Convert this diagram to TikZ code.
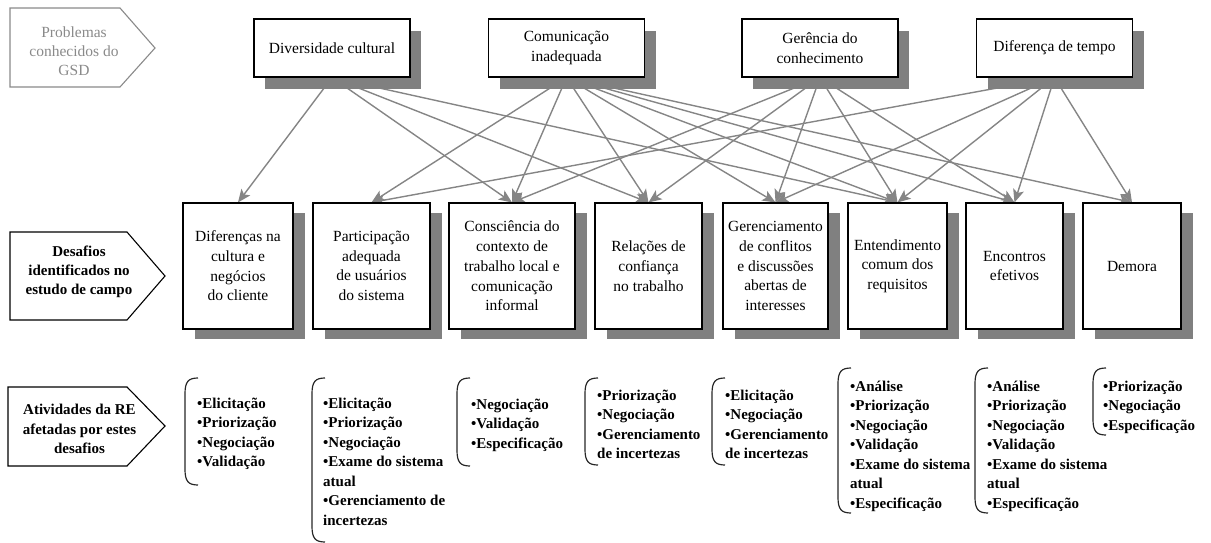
\documentclass[tikz,border=0pt]{standalone}
\usepackage{fontspec}
\setmainfont{Liberation Serif}
\usetikzlibrary{arrows.meta,shadows}
\pgfdeclarelayer{background}
\pgfsetlayers{background,main}

\definecolor{shadegray}{HTML}{808080}
\definecolor{linkgray}{HTML}{858585}
\definecolor{labelgray}{HTML}{8A8A8A}

\tikzset{
  boxbase/.style={draw=black, line width=1.1pt, fill=white, inner sep=0pt,
    align=center, font=\fontsize{15.5}{19.7}\selectfont},
  topbox/.style={boxbase, minimum width=156pt, minimum height=58pt,
    drop shadow={shadow xshift=11pt, shadow yshift=-12pt, fill=shadegray, opacity=1}},
  midbox/.style={boxbase, minimum width=#1, minimum height=126pt,
    drop shadow={shadow xshift=12pt, shadow yshift=-10pt, fill=shadegray, opacity=1}},
  rowlabel/.style={line width=1.1pt, fill=white},
  rowtext/.style={align=center, inner sep=0pt, font=\bfseries\fontsize{15}{19.2}\selectfont},
  link/.style={draw=linkgray, line width=1.4pt,
    -{Stealth[length=13pt, width=11pt, inset=3pt]}},
  actlist/.style={anchor=north west, align=left, inner sep=0pt,
    font=\bfseries\fontsize{15}{19.5}\selectfont},
  bracket/.style={draw=black!85, line width=1.2pt}
}

% a round bracket opening a list: left x, top y, bottom y
\newcommand{\listbracket}[3]{%
  \draw[bracket] (#1+13,#2) .. controls (#1+3,#2) and (#1,#2+4) .. (#1,#2+16)
    -- (#1,#3-16) .. controls (#1,#3-4) and (#1+3,#3) .. (#1+13,#3);}

\begin{document}
\begin{tikzpicture}[x=1pt, y=-1pt]
\useasboundingbox (0,0) rectangle (1211,543);

% row headings
\draw[rowlabel, draw=labelgray] (10,8) -- (120,8) -- (155,48) -- (120,87) -- (10,87) -- cycle;
\node[rowtext, font=\fontsize{15.5}{19}\selectfont, text=labelgray] (hproblems) at (74,51)
  {Problemas\\conhecidos do\\GSD};

\draw[rowlabel, draw=black] (10,232) -- (127,232) -- (165,276) -- (127,320) -- (10,320) -- cycle;
\node[rowtext] (hchallenges) at (79,272) {Desafios\\identificados no\\estudo de campo};

\draw[rowlabel, draw=black] (8,387) -- (127,387) -- (165,426) -- (127,466) -- (8,466) -- cycle;
\node[rowtext] (hactivities) at (79.5,429) {Atividades da RE\\afetadas por estes\\desafios};

% known problems
\node[topbox] (div) at (332,48) {Diversidade cultural};
\node[topbox] (com) at (566.5,48) {Comunicação\\inadequada};
\node[topbox] (ger) at (820,48) {Gerência do\\conhecimento};
\node[topbox] (tmp) at (1054.5,48) {Diferença de tempo};

% challenges
\node[midbox=110pt] (m1) at (238,266) {Diferenças na\\cultura e\\negócios\\do cliente};
\node[midbox=117pt] (m2) at (371.5,266) {Participação\\adequada\\de usuários\\do sistema};
\node[midbox=126pt] (m3) at (512,266) {Consciência do\\contexto de\\trabalho local e\\comunicação\\informal};
\node[midbox=107pt] (m4) at (648.5,266) {Relações de\\confiança\\no trabalho};
\node[midbox=105pt] (m5) at (775.5,266) {Gerenciamento\\de conflitos\\e discussões\\abertas de\\interesses};
\node[midbox=99pt] (m6) at (897.5,266) {Entendimento\\comum dos\\requisitos};
\node[midbox=97pt] (m7) at (1014.5,266) {Encontros\\efetivos};
\node[midbox=98pt] (m8) at (1132,266) {Demora};

% problem -> challenge links, kept below the boxes and their shadows
\begin{pgfonlayer}{background}
\foreach \s/\t in {div/m1, div/m3, div/m4, div/m6,
                   com/m2, com/m3, com/m4, com/m5, com/m6, com/m7, com/m8,
                   ger/m3, ger/m4, ger/m5, ger/m6, ger/m7,
                   tmp/m2, tmp/m5, tmp/m6, tmp/m7, tmp/m8}
  \draw[link] (\s.south) -- (\t.north);
\end{pgfonlayer}

% affected RE activities
\listbracket{185}{378}{485}
\node[actlist] (l1) at (197,394.2) {\strut•Elicitação\\•Priorização\\•Negociação\\•Validação};
\listbracket{312}{378}{542}
\node[actlist] (l2) at (323,394.2) {\strut•Elicitação\\•Priorização\\•Negociação\\•Exame do sistema\\atual\\•Gerenciamento de\\incertezas};
\listbracket{457}{378}{466}
\node[actlist] (l3) at (471,395.2) {\strut•Negociação\\•Validação\\•Especificação};
\listbracket{585}{378}{465}
\node[actlist] (l4) at (597,386.2) {\strut•Priorização\\•Negociação\\•Gerenciamento\\de incertezas};
\listbracket{712}{378}{465}
\node[actlist] (l5) at (725,386.2) {\strut•Elicitação\\•Negociação\\•Gerenciamento\\de incertezas};
\listbracket{838}{368}{513}
\node[actlist] (l6) at (850,377.2) {\strut•Análise\\•Priorização\\•Negociação\\•Validação\\•Exame do sistema\\atual\\•Especificação};
\listbracket{975}{368}{513}
\node[actlist] (l7) at (987,377.2) {\strut•Análise\\•Priorização\\•Negociação\\•Validação\\•Exame do sistema\\atual\\•Especificação};
\listbracket{1093}{368}{435}
\node[actlist] (l8) at (1103,377.2) {\strut•Priorização\\•Negociação\\•Especificação};
\end{tikzpicture}
\end{document}
